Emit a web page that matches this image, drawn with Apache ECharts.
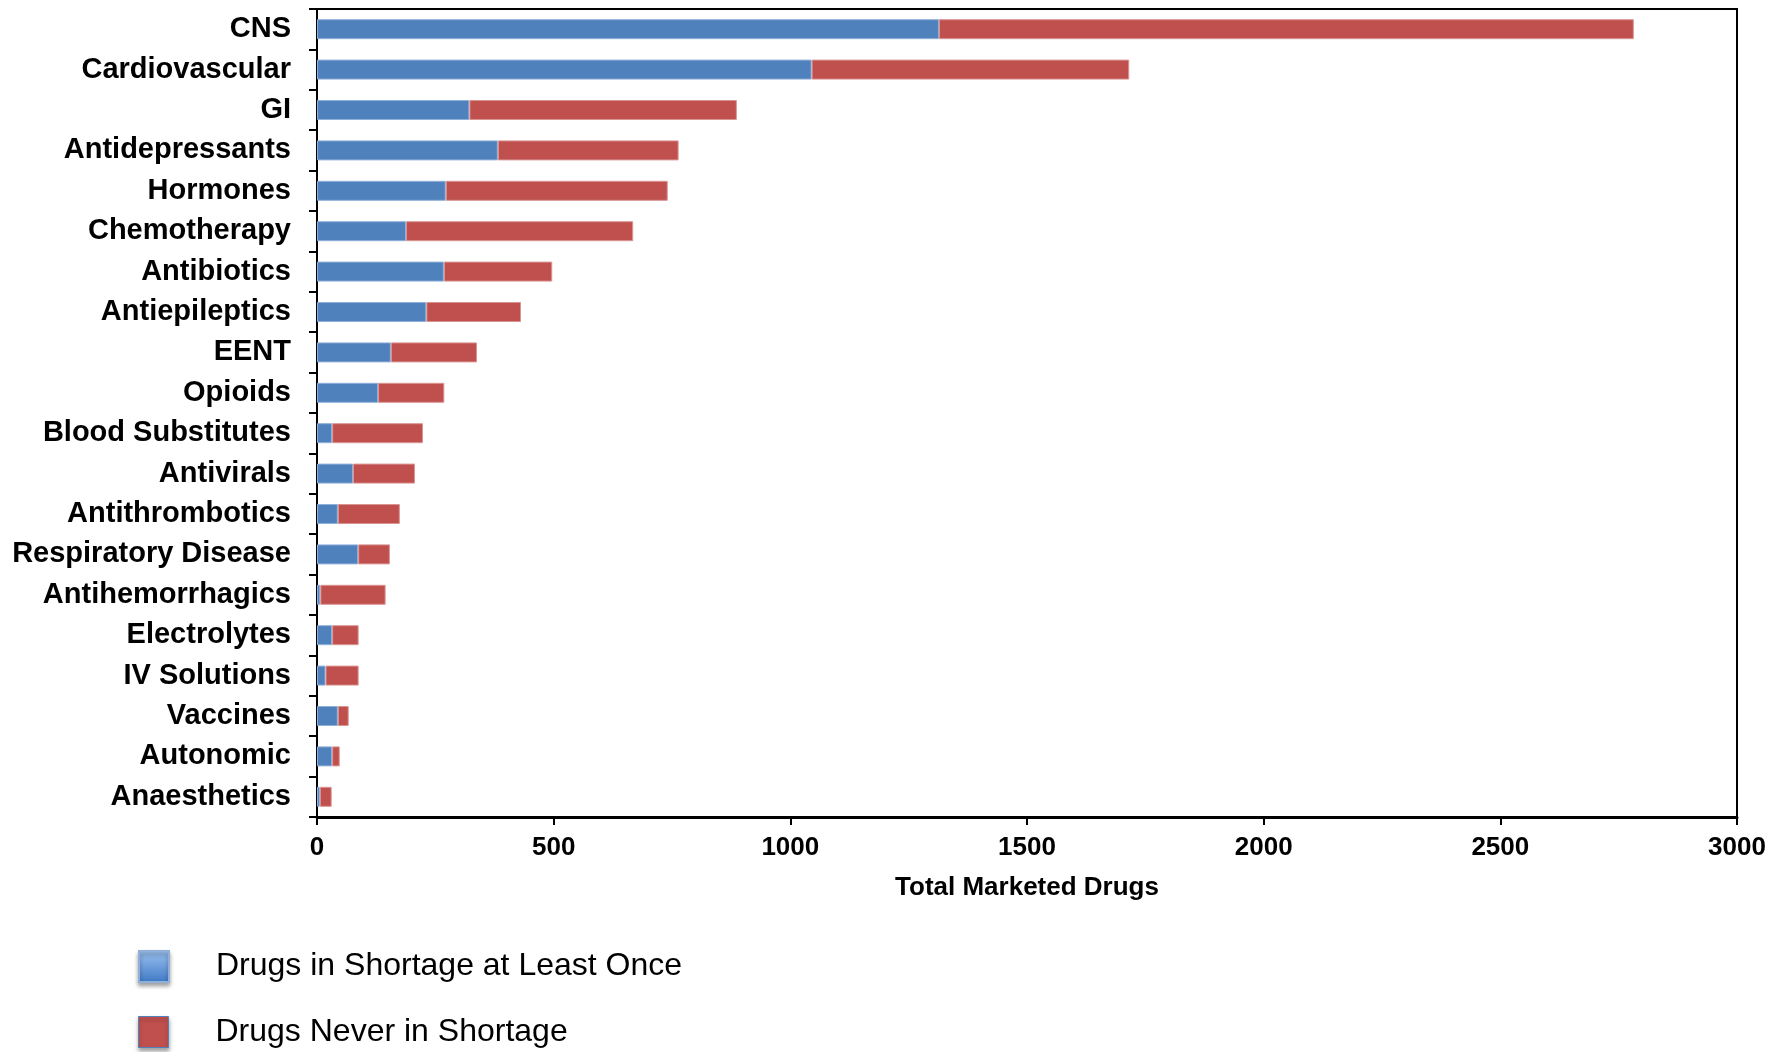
<!DOCTYPE html>
<html>
<head>
<meta charset="utf-8">
<script src="https://cdn.jsdelivr.net/npm/echarts@6/dist/echarts.min.js"></script>
<style>
html,body{margin:0;padding:0;background:#fff;}
#chart{width:1787px;height:1052px;}
</style>
</head>
<body>
<div id="chart"></div>
<script>
const categories = ["CNS","Cardiovascular","GI","Antidepressants","Hormones","Chemotherapy","Antibiotics","Antiepileptics","EENT","Opioids","Blood Substitutes","Antivirals","Antithrombotics","Respiratory Disease","Antihemorrhagics","Electrolytes","IV Solutions","Vaccines","Autonomic","Anaesthetics"];
const inShortage = [1314,1045,322,382,272,188,268,231,156,129,32,76,44,87,7,32,18,44,32,6];
const neverShortage = [1468,671,565,382,469,480,229,200,182,140,192,131,131,67,138,56,70,23,16,25];
const xTicks = [0,500,1000,1500,2000,2500,3000];
const seriesNames = ["Drugs in Shortage at Least Once","Drugs Never in Shortage"];
const xTitle = "Total Marketed Drugs";

const FONT = "'Liberation Sans', Arial, sans-serif";
const legendBase = {orient:'vertical',left:133,itemWidth:30,itemHeight:31,
  textStyle:{fontFamily:FONT,fontSize:32,color:'#000',padding:[0,0,0,42]}};
const chart = echarts.init(document.getElementById('chart'));
chart.setOption({
  animation:false,
  backgroundColor:'#fff',
  grid:{left:317,right:50,top:9,bottom:235,show:true,borderColor:'#000',borderWidth:2,containLabel:false},
  legend:[
    Object.assign({},legendBase,{top:945,data:[
      {name:seriesNames[0],icon:'rect',itemStyle:{color:new echarts.graphic.LinearGradient(0,0,0,1,[{offset:0,color:'#9DC3F0'},{offset:1,color:'#3E78C6'}]),shadowColor:'rgba(0,0,0,0.35)',shadowBlur:4,shadowOffsetY:3}}]}),
    Object.assign({},legendBase,{top:1011,data:[
      {name:seriesNames[1],icon:'rect',itemStyle:{color:'#C0504D',borderColor:'#4F81BD',borderWidth:1,shadowColor:'rgba(0,0,0,0.35)',shadowBlur:4,shadowOffsetY:3}}]})
  ],
  xAxis:{
    type:'value',min:xTicks[0],max:xTicks[xTicks.length-1],interval:xTicks[1]-xTicks[0],
    name:xTitle,nameLocation:'middle',nameGap:58,
    nameTextStyle:{fontFamily:FONT,fontSize:26,fontWeight:'bold',color:'#000'},
    axisLine:{show:true,lineStyle:{color:'#000',width:3}},
    axisTick:{show:true,length:8,lineStyle:{color:'#000',width:2}},
    axisLabel:{fontFamily:FONT,fontSize:26,fontWeight:'bold',color:'#000',margin:18,formatter:function(v){return String(v);}},
    splitLine:{show:false}
  },
  yAxis:{
    type:'category',data:categories,inverse:true,
    axisLine:{show:true,lineStyle:{color:'#000',width:2}},
    axisTick:{show:true,length:8,lineStyle:{color:'#000',width:2}},
    axisLabel:{fontFamily:FONT,fontSize:29,fontWeight:'bold',color:'#000',margin:26}
  },
  series:[
    {name:seriesNames[0],type:'bar',stack:'t',data:inShortage,barWidth:20,
     itemStyle:{color:'#4F81BD',borderColor:'#8FB0DA',borderWidth:1}},
    {name:seriesNames[1],type:'bar',stack:'t',data:neverShortage,barWidth:20,
     itemStyle:{color:'#C0504D',borderColor:'#DA9593',borderWidth:1}}
  ]
});
</script>
</body>
</html>
